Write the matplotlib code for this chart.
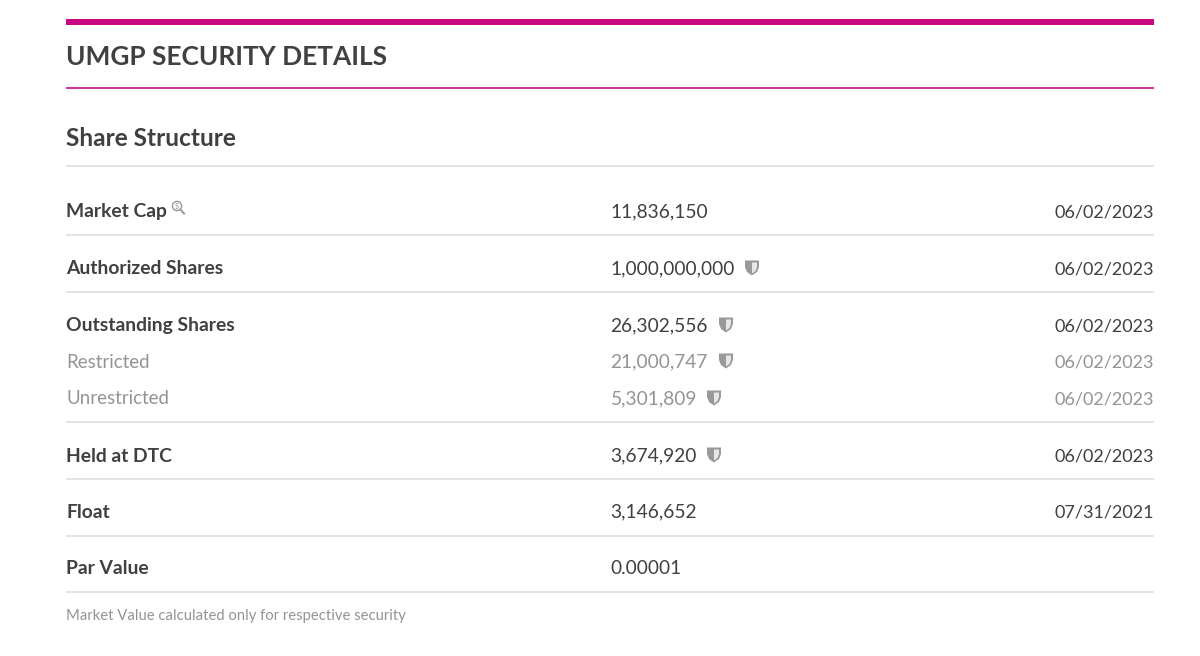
import matplotlib
matplotlib.use("Agg")
import matplotlib.pyplot as plt
from matplotlib.patches import Circle, Polygon

plt.rcParams['font.family'] = ['Lato', 'DejaVu Sans']

title = "UMGP SECURITY DETAILS"
section = "Share Structure"
footnote = "Market Value calculated only for respective security"

labels = ["Market Cap", "Authorized Shares", "Outstanding Shares", "Restricted",
          "Unrestricted", "Held at DTC", "Float", "Par Value"]
values = ["11,836,150", "1,000,000,000", "26,302,556", "21,000,747",
          "5,301,809", "3,674,920", "3,146,652", "0.00001"]
dates = ["06/02/2023", "06/02/2023", "06/02/2023", "06/02/2023",
         "06/02/2023", "06/02/2023", "07/31/2021", ""]
muted = [False, False, False, True, True, False, False, False]
has_shield = [False, True, True, True, True, True, False, False]

row_y = [211, 268, 325, 361, 398, 455, 511, 568]
shield_x = [0, 752, 726, 726, 714, 714, 0, 0]
rule_y = [166, 235, 292, 422, 479, 536, 592]

DARK = "#404040"
GREY = "#949494"
LEFT, MID, RIGHT = 66, 610.5, 1154


def draw_shield(ax, cx, cy):
    # dark body, then a light inset on the right half
    body = [(cx - 7, cy - 7.5), (cx + 7, cy - 7.5), (cx + 7, cy - 1), (cx + 5, cy + 4), (cx, cy + 7.5),
            (cx - 5, cy + 4), (cx - 7, cy - 1)]
    inset = [(cx, cy - 5.5), (cx + 5, cy - 5.5), (cx + 5, cy - 1), (cx + 3.5, cy + 3), (cx, cy + 5.5)]
    ax.add_patch(Polygon(body, closed=True, fc="#999999", ec="none"))
    ax.add_patch(Polygon(inset, closed=True, fc="#e6e6e6", ec="none"))


fig = plt.figure(figsize=(12, 6.56), dpi=100, facecolor="white")
ax = fig.add_axes([0, 0, 1, 1])
ax.set_xlim(0, 1200)
ax.set_ylim(656, 0)
ax.axis("off")

# header
ax.fill_between([LEFT, RIGHT], 19, 25.3, color="#c80882", lw=0)
ax.plot([LEFT, RIGHT], [88, 88], color="#c23c98", lw=1.5, solid_capstyle="butt")
ax.text(LEFT, 65, title, fontsize=18.9, fontweight="bold", color=DARK, va="baseline")
ax.text(LEFT, 145.5, section, fontsize=17.6, fontweight="bold", color=DARK, va="baseline")

for y in rule_y:
    ax.plot([LEFT, RIGHT], [y, y], color="#e2e2e2", lw=1.3, solid_capstyle="butt")

for i in range(len(labels)):
    y = row_y[i]
    base = y + 6.5
    col = GREY if muted[i] else DARK
    weight = "normal" if muted[i] else "bold"
    ax.text(LEFT, base, labels[i], fontsize=13.5 if muted[i] else 13.9, fontweight=weight, color=col, va="baseline")
    ax.text(MID, base, values[i], fontsize=13.8, color=col, va="baseline")
    ax.text(RIGHT, base, dates[i], fontsize=13, color=col, va="baseline", ha="right")
    if has_shield[i]:
        draw_shield(ax, shield_x[i], y)

# magnifier next to Market Cap
ax.add_patch(Circle((177, 206), 4.6, fc="none", ec="#999999", lw=1.0))
ax.plot([180.5, 184], [209.5, 213.5], color="#999999", lw=1.4)
ax.text(177, 206, "$", fontsize=5, color="#999999", ha="center", va="center", parse_math=False)

ax.text(LEFT, 620, footnote, fontsize=10.75, color=GREY, va="baseline")

fig.savefig("out.png", dpi=100)
